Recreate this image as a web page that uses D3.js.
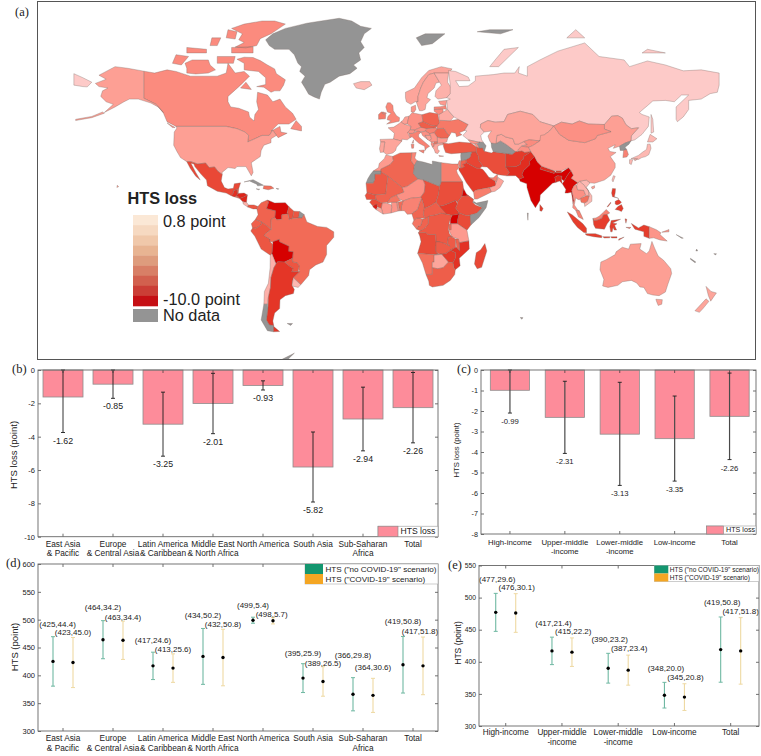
<!DOCTYPE html>
<html>
<head>
<meta charset="utf-8">
<title>HTS loss</title>
<style>
  body { margin: 0; background: #fff; }
  text { font-family: "Liberation Sans", Arial, sans-serif; fill: #222; }
</style>
</head>
<body>
<script src="https://d3js.org/d3.v7.min.js"></script>
<script>
// ---- chart data ----
var regionLabels = [["East Asia","& Pacific"],["Europe","& Central Asia"],["Latin America","& Caribbean"],["Middle East","& North Africa"],["North America"],["South Asia"],["Sub-Saharan","Africa"],["Total"]];
var regionLoss = [-1.62,-0.85,-3.25,-2.01,-0.93,-5.82,-2.94,-2.26];
var regionLossUpper = [0,0,-1.33,-0.2,-0.65,-3.72,-1.03,-0.15];
var regionLossLower = [-3.75,-1.7,-5.17,-3.82,-1.2,-7.92,-4.85,-4.37];
var incomeLabels = [["High-income"],["Upper-middle","-income"],["Lower-middle","-income"],["Low-income"],["Total"]];
var incomeLoss = [-0.99,-2.31,-3.13,-3.35,-2.26];
var incomeLossUpper = [0,-0.55,-0.6,-1.27,-0.15];
var incomeLossLower = [-2.1,-4.07,-5.63,-5.42,-4.37];
var regionNoCovid = [[425,44.4],[464,34.2],[417,24.6],[434,50.2],[499,5.4],[395,25.9],[366,29.8],[419,50.8]];
var regionCovid = [[423,45.0],[463,34.4],[413,25.6],[432,50.8],[498,5.7],[389,26.5],[364,30.6],[417,51.8]];
var incomeNoCovid = [[477,29.6],[417,21.4],[390,23.2],[348,20.0],[419,50.8]];
var incomeCovid = [[476,30.1],[415,22.2],[387,23.4],[345,20.8],[417,51.8]];
var legendSteps = ["#fbe8d6","#f6d9c1","#f0c8aa","#e8b492","#de9c7d","#d87f66","#d2604e","#cb3e36","#c50f14"];

// each country: name, estimated loss (null = no data), lon,lat rings
var americas = [
["Greenland",null,"-73,78.5 -69,80 -62,81.3 -55,82 -50,82.5 -42,83 -32,83.6 -25,83 -20,81.8 -14,81.3 -18,80 -20,78 -18,76.5 -21,75 -20,73 -24,71.5 -22,70.5 -26,68.8 -32,68 -37,66 -40,65.3 -42,62.5 -43,60 -46,60.8 -49,61.8 -51,64 -53,66 -51,68 -54,69.5 -53,71 -55,72 -57,74.5 -60,76 -68,76 -71,77"],
["Canada",-1.4,"-141,69.6 -135,69 -128,70 -123,69.5 -115,68 -108,68 -100,68 -95,69 -94,72 -90,69 -85,69.5 -82,68 -87,65 -94,61 -94,59 -92.5,57 -88,56.5 -82.5,55 -82,53 -79.5,51.3 -79,54 -77,56 -78,59 -77.5,62.5 -72,61.5 -69,59 -65,60 -62,57 -58,54.5 -56,52 -60,50 -66,50 -70,47 -65,49 -64.5,46.5 -61,46 -66,44 -67,45 -69,47.3 -71,45 -75,45 -79,43.5 -83,42 -82.5,45 -84.5,46.5 -89,48 -95,49 -123,49 -128,51 -130,54.5 -134,58 -137,59 -141,60.3",
 "-80,73.7 -76,72.8 -72,71.5 -68,70.3 -67,68.8 -62,66.8 -63,65 -65,63 -68,63 -70,62.5 -74,64.3 -78,64.5 -73,65.2 -73,67.5 -77,69.5 -82,69.8 -85,70 -85,72 -89,73.2 -85,73.8","-117,69 -112,68.7 -105,69 -101,70 -104,71.5 -105,73 -110,73 -114,73 -118,72 -117,70.5","-125,72 -120,71.5 -116,74 -123,74.5","-90,76.6 -84,76.4 -78,77 -76,78.8 -70,80 -62,82.3 -68,83 -75,83 -85,82.3 -92,81.3 -86,80 -88,78.5 -85,77.8","-92,75 -80,75 -80,76.7 -92,76.5","-95,79 -90,78.7 -89,80.5 -94,81","-117,75 -106,75 -106,76 -117,76.5","-100,72 -91,72 -90,74 -100,74","-87,64 -81,63.5 -84,66","-59,48 -53,47 -53,49 -56,51.5","-128,50.5 -123.5,48.5 -125,48.5","-104,77 -100,77 -98,79 -103,79"],
["United States",-1,"-123,49 -95,49 -89,48 -84.5,46.5 -82.5,45 -83,42 -79,43.5 -75,45 -71,45 -69,47.3 -67,45 -70,43.5 -70,41.7 -74,40.5 -75.5,38 -76,35 -81,32 -80,27 -81,25.2 -82.7,28 -84,30 -89,30 -90,29 -94,29.5 -97.3,27 -97.2,25.9 -99.5,27.5 -101.5,29.8 -104.5,29.5 -106.5,31.8 -111,31.3 -114.8,32.5 -117,32.5 -120.5,34.5 -122.5,37.5 -124.3,40.5 -124,46.5 -122.5,48.3",
 "-141,69.6 -141,60.3 -137,59 -134,58 -130,54.8 -133,57 -137,58.5 -144,60 -149,60 -152,59 -157,57 -163,54.8 -158,58 -162,59 -165,61 -164,63 -161,64 -166,64.5 -168,65.6 -162,67 -166,68.3 -157,71 -150,70.5","-179,51.5 -170,52.7 -163,54.5 -164,55 -170,53.2 -179,52","-156,19 -155,19.5 -155.8,20.2"],
["Mexico",-3.5,"-117,32.5 -114.8,32.5 -111,31.3 -106.5,31.8 -104.5,29.5 -101.5,29.8 -99.5,27.5 -97.2,25.9 -97.8,22.5 -96,19 -94,18.2 -91,18.6 -90.5,21 -87,21.5 -88,18.5 -89,17.9 -91,17.3 -91,16 -92.2,14.6 -95,16 -100,17 -105.5,20 -106,23 -109,26 -112.5,30 -113,31.3 -114.7,31.7 -112,27 -109.5,23 -112,25 -115,29"],
["Guatemala",-4.5,"-92.2,14.6 -91,16 -91,17.3 -89,17.9 -88.5,15.8 -89.4,14.2 -90.5,13.9"],
["Belize",-3,"-89,17.9 -88,18.5 -88.3,16 -89,16"],
["Honduras",-5,"-88.5,15.8 -85,16 -83.2,15 -85,14 -87.5,13 -89.3,14.4"],
["El Salvador",-2.5,"-90,13.8 -88,13.2 -87.7,13.8 -89.3,14.4"],
["Nicaragua",-5,"-87.5,13 -85,14 -83.2,15 -83.7,11 -85.7,11.2"],
["Costa Rica",-0.7,"-85.7,11.2 -83.7,11 -82.6,9.5 -83,8.3 -85.5,10"],
["Panama",-3,"-83,8.3 -82.6,9.5 -79.5,9.5 -77.3,8.6 -77.9,7.3 -80,7.3"],
["Cuba",null,"-85,22 -80,23.2 -74.2,20.2 -77.5,19.9 -78,20.8 -82,22.5"],
["Hispaniola",-2,"-74.4,18.4 -74,20 -70,19.8 -68.4,18.6 -71.5,17.8"],
["Jamaica",null,"-78.3,18.3 -76.3,18.1 -77,17.8"],
["Puerto Rico",null,"-67.2,18.5 -65.7,18.4 -66,18"],
["Colombia",-2.5,"-77.9,7.3 -77.3,8.6 -75.5,10.7 -72,12.2 -71.3,11 -72.5,7.5 -67.5,6.2 -67.8,2.5 -70,1.5 -69.8,-4.2 -72,-2.4 -75.2,-0.1 -78.8,1.4 -77.2,4"],
["Venezuela",-6.5,"-72,12.2 -68,10.6 -62,10.7 -60,8.5 -61,5.2 -60.5,4.5 -64,4 -64,1.5 -66.8,1.2 -67.8,2.5 -67.5,6.2 -72.5,7.5 -71.3,11"],
["Guyana",-3.2,"-60,8.5 -57.2,6 -58,2 -59.8,1.3 -60.5,4.5 -61,5.2"],
["Suriname",-3,"-57.2,6 -54,5.8 -54.6,2.3 -58,2"],
["French Guiana",null,"-54,5.8 -51.6,4.2 -52.7,2.2 -54.6,2.3"],
["Ecuador",-2.6,"-78.8,1.4 -75.2,-0.1 -75.5,-1.5 -78.3,-3.5 -80.3,-3.4 -81,-1"],
["Peru",-3,"-80.3,-3.4 -78.3,-3.5 -75.5,-1.5 -75.2,-0.1 -72,-2.4 -70,-4.2 -73,-6.5 -73.8,-7.5 -70.6,-9.5 -70.5,-11 -69,-12.5 -69.3,-16 -69.5,-17.5 -70.4,-18.3 -75.5,-15 -79,-8 -81.3,-5"],
["Brazil",-2.2,"-51.6,4.2 -50,0 -44,-2.5 -39,-3 -35,-5.5 -35,-8.5 -39,-13 -39,-18 -41,-22 -45,-23.5 -48.5,-26 -49,-29 -53.4,-33.7 -57.6,-30.2 -54,-27 -54.6,-25.5 -54.3,-24 -55.5,-22.3 -58,-22 -58,-20 -57.7,-16.5 -60.2,-16.2 -60,-13.5 -65.3,-11 -65.4,-9.7 -69,-11 -70.5,-11 -70.6,-9.5 -73.8,-7.5 -73,-6.5 -70,-4.2 -69.8,-4.2 -70,1.5 -67.8,2.5 -66.8,1.2 -64,1.5 -64,4 -60.5,4.5 -59.8,1.3 -58,2 -54.6,2.3 -52.7,2.2"],
["Bolivia",-7,"-69,-11 -65.4,-9.7 -65.3,-11 -60,-13.5 -60.2,-16.2 -57.7,-16.5 -58,-20 -62.5,-22 -66.3,-21.8 -67.2,-23 -68.5,-20 -69.5,-17.5 -69.3,-16 -69,-12.5"],
["Paraguay",-3,"-58,-20 -58,-22 -55.5,-22.3 -54.3,-24 -54.6,-25.5 -54.8,-27 -58.5,-27.2 -57.7,-25.2 -60,-24 -62.5,-22"],
["Chile",-0.7,"-70.4,-18.3 -69.5,-17.5 -68.5,-20 -67.2,-23 -68.4,-25 -70,-30 -70.3,-35 -71.5,-40 -72,-43 -74,-43 -73.7,-37 -71.5,-33 -70.5,-25"],
["Chile fjords",null,"-72,-43 -71.7,-45 -72.5,-50 -71,-52 -68.5,-52.3 -68.6,-54.9 -72,-54.5 -75.5,-50 -74,-43"],
["Argentina",-4.2,"-66.3,-21.8 -62.5,-22 -60,-24 -57.7,-25.2 -58.5,-27.2 -54.8,-27 -54,-27 -57.6,-30.2 -58.3,-34 -57,-36 -57.5,-38 -62,-39 -65,-41 -65.2,-45 -68,-47 -69,-50.5 -68.5,-52.3 -71,-52 -72.5,-50 -71.7,-45 -71.5,-40 -70.3,-35 -70,-30 -68.4,-25 -67.2,-23","-68.6,-52.7 -65.2,-54.8 -68.6,-54.9"],
["Uruguay",-0.6,"-57.6,-30.2 -53.4,-33.7 -54.9,-35 -58.3,-34.3"],
["Falklands",null,"-61,-51.5 -58,-51.5 -59,-52.3"],
["Antarctic Peninsula",null,"-67,-68 -65,-65.5 -57,-63 -60,-64.8 -62,-68"]
];

var africa = [
["Morocco",-1.1,"-5.9,35.8 -2.2,35.1 -1.7,33 -3.6,31 -8.7,28.7 -8.7,27.7 -13,27.7 -10,29.5 -9.7,31.5 -6.8,34"],
["Western Sahara",null,"-13,27.7 -8.7,27.7 -8.7,26 -12,26 -12,23.4 -13,21.3 -17,21.3 -16,23.7 -14.5,26"],
["Algeria",-2.4,"-2.2,35.1 2,36.8 8.6,36.9 8.2,33 10,30.5 9.4,26.5 12,23.5 5.8,19.5 3.2,19 -4.8,25 -8.7,27.3 -8.7,28.7 -3.6,31 -1.7,33"],
["Tunisia",-1.5,"8.6,36.9 11,37 10.2,34.3 11.5,33 10,30.5 8.2,33"],
["Libya",null,"11.5,33 15,32.3 20,31 20,32.8 25,32 25,22 24,19.5 15,23 12,23.5 9.4,26.5 10,30.5"],
["Egypt",-1.7,"25,32 31,31.3 34.2,31.3 34.8,29.5 33.5,28 34,26.5 36.9,22 25,22"],
["Mauritania",-2.9,"-17,21.3 -13,21.3 -12,23.4 -12,26 -8.7,26 -8.7,27.3 -4.8,25 -6,15.5 -12,15 -16.5,16.2"],
["Mali",-2.5,"-4.8,25 3.2,19 4.2,16.5 0,14.9 -3,13.6 -5,11 -8.5,10.5 -11.4,12.4 -12,15 -6,15.5"],
["Niger",-1.3,"5.8,19.5 12,23.5 15,23 16,20.5 15.5,16.5 13.5,13.7 8,13.2 3.7,11.7 0.9,13.2 0,14.9 4.2,16.5 3.2,19"],
["Chad",-3.2,"15,23 24,19.5 23.5,15.5 22,11 19,9 15.5,7.5 15,10 14,13 13.5,13.7 15.5,16.5 16,20.5"],
["Sudan",-3.3,"24,19.5 25,22 36.9,22 37.4,18.5 36.5,14.3 34,11 33,12 32.4,11.7 27,9.5 24,8.7 22,11 23.5,15.5"],
["South Sudan",-4,"24,8.7 27,9.5 32.4,11.7 33,12 34,10 33,7.8 35,5 33.9,4.2 31,3.7 28,4.3 25,5"],
["Eritrea",-7,"36.5,14.3 37.4,18.5 39,15.5 43,12.5 40,14.5"],
["Ethiopia",-3.3,"36.5,14.3 40,14.5 43,12.5 42.5,11 44,9.5 48,8 44.8,4.9 41.8,4 39,3.5 35,5 33,7.8 34,10 34,11"],
["Somalia",null,"43,11.5 44.5,10.5 51,11.9 50,8 46,2.5 41.5,-1.7 41,3.8 41.8,4 44.8,4.9 48,8 42.7,10.9"],
["Kenya",-3.4,"35,5 39,3.5 41,3.8 41.5,-1.7 39.3,-4.6 34,-1 34,1"],
["Uganda",-7,"31,3.7 33.9,4.2 35,5 34,1 34,-1 30,-1 30,1.5"],
["Tanzania",-1.1,"30,-1 34,-1 39.3,-4.6 40.4,-10.5 35,-11.5 34.5,-9.5 31,-8.3 29.5,-5"],
["Rwanda Burundi",-2,"29,-1.4 30.5,-1 30.5,-4.3 29.3,-4.3"],
["DR Congo",-2.9,"12.2,-6 13,-4.8 14,-4.5 16,-3 17.7,-1 17.8,3.7 18.6,3.5 22,4 25,5 28,4.3 31,3.7 30,1.5 29.3,-1 29,-4 29.5,-6.5 31,-8.3 28.9,-8.5 28.5,-12 29.8,-13.4 27,-12 22,-11 22,-9.7 21.8,-7 17.5,-7 16.5,-6"],
["Congo",-2.5,"11.2,-4 13,-4.8 14,-4.5 16,-3 17.7,-1 17.8,3.7 16,2 14.5,1.5 13.5,-2 12,-2.3"],
["Gabon",-1.9,"9.7,1 11.3,2.2 13.2,2.2 14.5,1.4 13.5,-2 12,-2.3 11.2,-4 8.8,-1"],
["Cameroon",-2.4,"8.6,4.5 9.7,1 11.3,2.2 13.2,2.2 16,2 15,4 15.5,7.5 15,10 14,13 13,11 11.7,7 8.8,5"],
["Central African Republic",-2.7,"15,4 16,2 18.6,3.5 22,4 25,5 28,4.3 24,8.7 22,11 19,9 15.5,7.5"],
["Nigeria",-1.6,"2.7,6.3 4.4,6.3 6,4.3 8.6,4.5 8.8,5 11.7,7 13,11 14,13 13.5,13.7 8,13.2 3.7,11.7 2.8,9"],
["Benin",-2.2,"1.7,6.2 2.7,6.3 2.8,9 3.7,11.7 0.9,11"],
["Togo",-1.2,"0.9,6.1 1.7,6.2 0.9,11 0,11"],
["Ghana",-1.2,"-3.1,5 0.9,6.1 0,11 -2.8,11 -2.7,8"],
["Burkina Faso",-1.9,"-5.3,10.4 -2.8,11 0,11 2.3,12 0.9,13.2 0,14.9 -3,13.6 -5,11"],
["Cote d'Ivoire",-1.1,"-8.5,7.7 -7.5,4.4 -3.1,5 -2.7,8 -2.8,9.5 -5.3,10.4 -8,10.5"],
["Liberia",-0.9,"-11.4,6.9 -7.5,4.4 -8.5,7.7 -9.5,8.5"],
["Sierra Leone",-5.5,"-13.2,8.5 -11.4,6.9 -10.5,8.5 -11,10 -12.5,10"],
["Guinea",-3.4,"-15,11 -13.2,8.9 -11,10 -10.5,8.5 -8.5,7.7 -8,10.5 -8.5,10.5 -11.4,12.4 -13.7,12.5"],
["Senegal",-3.2,"-17.5,14.7 -16.5,16.2 -12,15 -11.4,12.4 -16.7,12.5"],
["Angola",-3.4,"12.2,-6 16.5,-6 17.5,-7 21.8,-7 22,-11 24,-11 22,-13 22,-16.5 23.4,-17.6 20,-18 11.8,-17.3 13.7,-11 13,-8"],
["Zambia",-2.8,"22,-11 24,-11 27,-12 29.8,-13.4 28.5,-12 28.9,-8.5 31,-8.3 33,-9.5 33,-14 30.2,-15.6 27.5,-17.5 25.3,-17.8 23.4,-17.6 22,-16.5 22,-13"],
["Namibia",-2,"11.8,-17.3 20,-18 25.3,-17.8 21,-18.3 21,-22 20,-22 20,-28.4 16.5,-28.6 14.5,-22.5"],
["Botswana",-0.9,"21,-18.3 25.3,-17.8 29,-22 26,-25 23,-25.5 20,-25 20,-22 21,-22"],
["Zimbabwe",-4,"25.3,-17.8 27.5,-17.5 30.2,-15.6 33,-17 33,-19.5 31.5,-22.4 29,-22"],
["Malawi",-2.5,"33,-9.5 34.5,-9.5 35,-11.5 35.3,-16 33.5,-14.2"],
["Mozambique",-4.4,"40.4,-10.5 40.6,-15 35,-20 35.5,-24 32.8,-26 32,-25 31.5,-22.4 33,-19.5 33,-17 30.2,-15.6 33,-14 33.5,-14.2 35.3,-16 35,-11.5"],
["South Africa",-2.7,"16.5,-28.6 20,-28.4 20,-25 23,-25.5 26,-25 29,-22 31.5,-22.4 32,-25 32.8,-26 32.5,-28.5 30,-31.5 26,-34 20,-34.8 18.3,-34 18,-32"],
["Madagascar",-3.5,"49.3,-12 50.4,-16 47.5,-24.8 45,-25.5 43.5,-23 44.5,-17 47,-15.3"]
];

var europe = [
["Iceland",-0.6,"-24,65.5 -20,66.2 -15,66.2 -13.7,65 -18,63.4 -22.5,64"],
["Svalbard",null,"11,79 16,80 27,80 20,77.5 14,77","45,80.5 52,81 65,81 58,80"],
["Norway",-0.9,"5,60.5 5,62.5 10,64 14,67.5 18,69.8 25,71 31,70.3 29,69 25.5,69 21,69 18,68.5 15,66 13.5,64 12,61 12,59 10.5,59 8,58 5.5,59"],
["Sweden",-0.9,"11,59 12,59 12,61 13.5,64 15,66 18,68.5 21,69 24,66 22,65.7 21,64 17.5,62 17,60.5 19,59.8 16.5,58 16,56 14.3,55.5 12.8,55.5 12,57"],
["Finland",-0.7,"21,69 25.5,69 29,69 28.5,66 31.5,63 28,60.5 23,60 21.5,61 22,63 25,65 24,66"],
["Denmark",-1.2,"8.2,57 10.6,57.7 10.8,56 9.8,54.9 8.2,55"],
["United Kingdom",-1.5,"-5.5,50 1.5,51.2 1.7,52.7 0,53.5 -1.8,55.5 -2,57.6 -3.5,58.6 -5,58.6 -6,57 -5,55 -3,54.5 -4.8,53.2 -5.2,51.8 -3,51.4","-7.5,55 -5.6,54.6 -6.2,54.1 -8,54.4"],
["Ireland",-1.8,"-10,52 -6.2,52.2 -6,54 -8,54.4 -7.5,55 -8.5,55 -10,54"],
["France",-1,"-4.7,48.4 -1.5,48.7 1.5,50.2 2.5,51 4.3,50 8.2,49 7.6,47.5 6.2,46.3 7.6,44 6,43 3,43.3 3,42.4 -1.7,43.4 -1.2,46","8.7,41.5 9.5,43 9.4,41.5"],
["Spain",-0.9,"-9.2,43.2 -1.7,43.4 3,42.4 0,39.5 -0.5,38 -2,36.8 -5.5,36 -7.3,37.2 -7,39.5 -6.5,42 -8.8,42"],
["Portugal",-0.9,"-8.8,42 -6.5,42 -7,39.5 -7.3,37.2 -9,37 -9.5,38.8"],
["Benelux",-1,"2.5,51 3.5,51.5 4.7,53 7,53.3 6,50 4.3,50"],
["Germany",-1.3,"6.2,51 7,53.3 8.8,54.8 10,54.5 14.2,53.9 14.8,51 12.2,50.3 13.7,48.6 10,47.4 7.6,47.6 8.2,49 6,50"],
["Switzerland",-1.2,"6.2,46.3 7.6,47.5 10,47.4 10.4,46.6 9,45.9 7,45.9"],
["Austria",-1.3,"10,47.4 13.7,48.6 17,48.7 16.2,46.9 13,46.6 10.4,46.9"],
["Italy",-1.6,"7,45.9 9,45.9 12,47 13.7,46.5 12.3,45.3 12.4,44.3 16,41.8 18.5,40 16.6,38.9 16,38 15.7,40 12.5,41.4 10.3,43 8.7,44.4 7.6,44","12.5,38 15.6,38.2 15.1,36.7","8.2,41 9.7,41 9.5,39.1 8.5,39"],
["Poland",-2.5,"14.2,53.9 18.5,54.8 23,54.3 24,50.5 22.8,49.1 19,49.5 14.8,51"],
["Czechia Slovakia",-2.7,"12.2,50.3 14.8,51 19,49.5 22.5,49.1 22,48.4 17,48 13.7,48.6"],
["Hungary",-1.6,"16.2,46.9 17,48 22,48.4 22.8,48 21,46.2 18.5,45.8"],
["Romania",-2.4,"21,46.2 22.8,48 26.5,48.2 28.2,46 29.6,45 28.6,43.8 25,43.7 22.7,44.2"],
["Bulgaria",-1.1,"22.7,44.2 25,43.7 28.6,43.7 28,42 26,41.5 22.8,41.4"],
["Ukraine",-1.8,"22.8,48 22.5,49.1 24,50.5 24,51.6 30,51.4 34.5,52 40,49.8 38,47.2 35,46.2 36.5,45.3 33.5,44.4 33,46 30.7,46.4 29.6,45 28.2,46 26.5,48.2"],
["Belarus",-0.8,"23.5,53.9 26,55 28.5,56 32,53 30,51.4 24,51.6"],
["Lithuania",-1.4,"21,56 26,56.3 26,55 23.5,53.9 23,54.3 21,55.3"],
["Latvia",-1.5,"21,57 24.4,57.1 27.5,57.5 28,56 26,56.3 21,56"],
["Estonia",-1.1,"23.5,59.2 28,59.5 27.5,57.5 24.4,58"],
["Croatia Slovenia",-1.3,"13.7,46.5 16.2,46.9 18.5,45.8 19,45 16,45 17.5,43 14.5,45"],
["Bosnia",-1,"16,45 19,45 19.5,43.5 18.5,42.5 17.5,43"],
["Serbia",-1.2,"18.5,45.8 21,46.2 22.7,44.2 22.8,42 21,42 19.4,42 18.5,42.5 19.5,43.5 19,45"],
["Albania",-1.3,"19.4,42 20.8,41.5 21,40 20,39.7 19.3,41"],
["North Macedonia",-1.8,"20.8,41.5 21,42 22.8,42 22.8,41.2 21,40.9"],
["Greece",-0.9,"21,40 21,40.9 22.8,41.2 26,41.5 26,40.8 24,40.5 23,40 23,38.5 24,37.8 23,36.5 21.7,36.8 21,38.5 20,39.7","23.6,35.6 26.3,35.2 24,35"]
];

var asia = [
["Russia",-0.3,"28.5,56 32,53 34.5,52 40,49.8 38,47.2 39.3,47 37,45 40,43 46.5,41.8 48.5,41.8 47.5,43 47,45 49,46.5 46.8,48.5 47,50 51,51.5 55,50.8 60,51 62,54 69,55.3 76,54 80,51 87.7,49.2 92,50.8 98,50 102,51.3 107,50 116,49.8 120,53.3 123.5,53.5 126,52.5 128,49.7 131,48 135,48.4 131,44.8 130.8,42.5 133,43 137,45.5 140.5,49 141,53 137,54 135.5,54.8 140,57.5 143,59.3 150,59.5 155,59 159,61.5 163,61.5 156,57 156,52 156.7,51 160,53 163,56 163,59.5 170,60 175,62 179,62.5 180,65 180,69 170,70 160,69.7 150,71.5 140,72.7 130,71 127,73 113,74 105,77.7 90,75.5 80,73 73,71 73,68 68,69 68.5,71 66,69 60,69 54,68.5 44,68 44,66.5 40,64.7 35,64.5 33,66.5 41,66.5 40,67.7 33,69.5 29,69.8 30,65 30,62 28,60.5 30,60 28,59.5",
 "-180,65 -175,64.5 -172.5,64.4 -170,66 -175,67.5 -180,68.8","142,54 143,52 143.5,46.5 142,46 142,50","52,71 55,71 57,71 68,76.5 60,76 55,73","95,79 105,79 100,81","137,75 145,75 150,75 140,76"],
["Turkey",-2.9,"26.2,40 26,41.5 29,41.2 35,42 41.5,41.5 44.6,39.7 44.5,37.2 42,37.2 36.5,36.3 36,36.8 30.5,36.4 27.4,37 26.5,39"],
["Syria",null,"36,36.8 42,37.2 41,34.5 38.8,33.4 36,32.8 35.8,35.5"],
["Israel",-1.6,"34.3,31.3 35,33 35.8,33 35.5,29.5"],
["Jordan",-2.5,"35.5,29.5 36,32.8 38.8,33.4 39,32 37,31 38,30 36,29.2"],
["Iraq",-3.6,"38.8,33.4 41,34.5 42,37.2 44.5,37.2 45.8,35 46,33 48,30.5 48.4,29.9 47.7,30 46.5,29.1 44.7,29.2 39,32"],
["Saudi Arabia",-4,"34.8,29.5 36,29.2 38,30 37,31 39,32 44.7,29.2 46.5,29.1 48.2,28.5 50,26.5 51.5,24.5 55,22.5 55.7,20 52,19 49,18.5 44,17.5 43,16.5 42.5,17 39,21.5 37,25 34.8,28.3"],
["Yemen",-1.7,"43,16.5 44,17.5 49,18.5 52,19 53,16.6 45,12.7 43.5,12.7"],
["Oman",-0.9,"53,16.6 52,19 55,20 55.7,22 56.5,24.5 59.8,22.5 57.8,19 55,17"],
["UAE",-1.6,"51.5,24.2 55,22.5 55.7,22 56.4,24.9 56.3,26 54,24.2"],
["Iran",-3.3,"44.6,39.7 48,39.3 49,37.6 53,36.8 54,37.4 61,36.5 61,31.5 60.9,29.8 63,27 61.6,25.2 57,25.8 54,26.7 50.5,29.8 48.4,29.9 48,30.5 46,33 45.8,35 44.5,37.2"],
["Georgia",-1.2,"40,43 46.5,41.8 43.5,41.1 41.5,41.5"],
["Armenia",-1.2,"43.5,41.1 45,41.2 46.5,39 44.8,39.7"],
["Azerbaijan",null,"45,41.2 46.5,41.8 46,42 48.5,41.8 50,40.2 49,37.6 48,39.3 46.5,39"],
["Turkmenistan",null,"52.8,41.5 55.5,41.3 58,42.5 61,41 66.5,37.4 64.5,36 61,36.5 54,37.4 53,39.5"],
["Uzbekistan",-0.9,"56,45 58.5,45.5 61,44.3 65,43.5 66,41 68,41 71,42.2 73,40.8 70,40.2 68,38.5 67,37.2 66.5,37.4 61,41 58,42.5 55.5,41.3"],
["Kazakhstan",-0.9,"46.8,48.5 47,50 51,51.5 55,50.8 60,51 62,54 69,55.3 76,54 80,51 87.7,49.2 85.5,47 82.5,45.3 80,42.5 74,43 71,42.2 68,41 66,41 65,43.5 61,44.3 58.5,45.5 56,45 55.5,41.3 52.8,41.5 52,42.5 51,44.7 53,47 49,46.5"],
["Kyrgyzstan",-1.4,"71,42.2 74,43 80,42.5 76,40.3 73.7,39.5 70,40 73,40.8"],
["Tajikistan",-1.3,"68,38.5 70,40.2 70,40 73.7,39.5 75,37.4 71.5,37 70,37.7 67.8,37.2"],
["Afghanistan",-4,"61,36.5 64.5,36 66.5,37.4 70,37.7 71.5,37 75,37.4 71,35 71,34 69.5,33 69,31 66.5,29.9 60.9,29.8 61,31.5"],
["Pakistan",-4.6,"61.6,25.2 63,27 60.9,29.8 66.5,29.9 69,31 69.5,33 71,34 71,35 75,37.4 77,35 74,32.5 74.5,31 71,28 70,26 71,24.4 68.5,23.5 66.5,25.3"],
["India",-7,"68.5,23.5 71,24.4 70,26 71,28 74.5,31 74,32.5 77,35 78.5,32.5 81,30.2 80,28.7 88,26.5 88,27.8 89,26.8 92,26.9 96,29.4 97.3,28 95,25 93.5,22.5 92,23.5 92.3,25 89.8,25.3 88.3,24.5 89,21.8 87,21.3 80.2,15 80,12 77.5,8 75,12 72.8,19 72.7,21 69,22.3"],
["Nepal",-4.6,"81,30.2 88,27.8 88,26.5 80,28.7"],
["Bhutan",-4,"89,26.8 89,27.8 92,27.8 92,26.9"],
["Bangladesh",-5,"88.3,24.5 89.8,25.3 92.3,25 92,23.5 92.5,21 91,22.5 89,21.8"],
["Sri Lanka",-4,"80,9.7 81.8,7.5 81,6 80,6.2"],
["Myanmar",-6.5,"92.5,21 93.5,22.5 95,25 97.3,28 98.7,25.5 97.5,24 101.2,21.5 99,20 97.8,17.5 99,12 98.5,10 98,14 97.5,16.5 95.5,16 94,16 94.5,18"],
["Thailand",-1.3,"97.8,17.5 99,20 100.5,20.3 101,17.8 104.5,17.5 105.5,15 102.5,13 102,12.2 100.8,12.8 100,13.4 99.2,9.5 101,6.8 102,6.2 100,6.5 98.3,8 98.5,10 99,12"],
["Laos",-0.7,"100.5,20.3 101.2,21.5 102.2,22.4 104.5,20.5 107,17.5 107.5,15 105.5,14 105.5,15 104.5,17.5 101,17.8"],
["Vietnam",-0.6,"102.2,22.4 106,23 108,21.5 105.8,19 109,14.5 109,11.5 105,8.6 104.8,10.5 106.5,11.5 107.5,15 107,17.5 104.5,20.5"],
["Cambodia",-2,"102.5,13 105.5,14.4 107.5,14.5 106.5,11.5 104.8,10.5 103,11"],
["Malaysia",-1.6,"100,6.5 102,6.2 103.5,3 104.2,1.4 101.5,2.8","109.6,2 111.3,2.3 113,3.2 115.5,5.5 117,7 119,5 117.5,4.2 115.5,4 114.5,2 112,1 110,0.9"],
["Indonesia",-3.9,"95.3,5.6 98,4 104,-1 106,-3.5 106,-6 104.5,-5.8 101,-3 98.5,0","105.2,-6.6 108,-6.5 111,-6.5 114.5,-7.7 114.5,-8.7 110,-8.2 106,-7.4","109.6,2 110,0.9 112,1 114.5,2 115.5,4 117.5,4.2 119,1 117.5,-1 116,-4 111,-3.5 110,-1.5","119.8,0.8 125,1.5 120.5,-0.5 123,-1 121.7,-2 122.8,-4.5 121.5,-4.5 120.8,-3 120.3,-5.5 119.5,-5.5 119,-2.5","131,-0.8 135,-3.3 138,-1.7 141,-2.6 141,-9.1 138,-8 138,-5.5 133,-4 132,-2.5","115,-8.2 119,-8.2 119,-8.8 116,-8.9","119.5,-8.2 123,-8.2 123,-8.9 120,-8.9","124,-9.5 127,-8.4 124,-10.2","127.5,1.8 128.5,1.5 128,-0.7","128,-3 130.8,-3 130,-3.6"],
["Papua New Guinea",-1.2,"141,-2.6 145,-4.3 147.5,-6 147,-7 151,-10.6 147,-10 143.5,-8.8 141,-9.1","148,-5.7 152,-4.2 152,-5.5"],
["Philippines",-4,"120.5,18.5 122.2,18.4 122,16 121.5,14 124,13 123,13.5 120.5,14 120,16","122,7 123.5,8.6 125.5,9.7 126.5,7.5 125.5,5.8 124,6.5","122,11.5 124,12.5 125.5,11 124.5,10 123,9.5 122,10","117.5,8.5 119.5,11 119.6,10.5 118,8.5"],
["Taiwan",-0.6,"121,25.3 122,25 120.8,22 120.2,23"],
["China",-1,"73.7,39.5 76,40.3 80,42.5 80.4,45 82.5,45.3 85.5,47 87.7,49.2 91,45.5 96,42.8 105,41.7 111,43.5 112,45 119.7,46.7 116,47.8 116,49.8 120,53.3 123.5,53.5 126,52.5 128,49.7 131,48 135,48.4 131,44.8 130.8,42.5 127.5,41.5 124.4,40 121,39 122,40.7 118,39 119,37.5 122.5,37 119.3,35 122,31.5 122,29.5 119.5,25.5 116,23 110.5,21.3 108,21.5 106,23 102.2,22.4 101.2,21.5 97.5,24 98.7,25.5 97.3,28 96,29.4 92,27.8 89,27.8 88,27.8 81,30.2 78.5,32.5 77,35 75,37.4","108.7,19.3 110.5,20 110.5,18.8 109.3,18.2"],
["Mongolia",-1.3,"87.7,49.2 91,45.5 96,42.8 105,41.7 111,43.5 112,45 119.7,46.7 116,47.8 116,49.8 107,50 102,51.3 98,50 92,50.8"],
["Japan",-0.6,"130.8,34 135,35.6 137,37 139.5,38.5 140,41 141.5,41 142,39 140.8,36 139,35 136.8,34.5 135,33.6 132.5,34","130,33.5 131.8,33.5 131,31 130,31.5","140,42 141.5,45.5 145.3,43.5 143,42","132.3,33.8 134.5,34 134,33.4 133,32.9"],
["North Korea",null,"124.4,40 127.5,41.5 130.8,42.5 129.7,41 127.5,39.5 128.4,38.5 126.7,38 124.8,38"],
["South Korea",-1.6,"126.7,38 128.4,38.5 129.4,36 128.5,34.8 126.3,34.5"],
["Australia",-1,"114,-22 117,-20.7 122,-18 122.5,-16.5 126,-14 129.5,-15 130.5,-12.3 136.5,-12 135.7,-15 139.5,-17.5 141,-16 142.5,-10.8 144,-14.5 146,-18.8 149,-21 153,-25.5 153.5,-28 151.3,-33.7 150,-37.3 146.5,-39 143,-38.7 140,-38 138,-35 135.8,-34.8 134,-32.8 131,-31.5 126,-32.2 123.5,-34 118,-35 115,-34.3 115.7,-31 113.5,-26","144.7,-40.7 148.3,-40.9 148,-43 146,-43.6 145.2,-42"],
["New Zealand",-0.9,"172.7,-34.5 175.5,-37 178.5,-37.7 177,-39.5 175.3,-41.6 174,-39","172.7,-40.5 174.3,-41.7 171,-45 169,-46.7 166.5,-46"],
["Small islands",null,"164,-20 167,-22 166.5,-22.3 164,-20.5","156,-7 160,-9 159,-9","177,-17.5 178.5,-17.5 178,-18.2","69,-49 70.5,-49 70,-49.7","168,-16 167.5,-15 167,-16","73,5 73.5,5 73.3,1"]
];

var lossStops = [0,-0.3,-1,-1.4,-2,-3,-4,-5.5,-7];
var lossColours = ["#fff0ea","#fdcac8","#fd9f94","#fb8b7e","#f3705c","#ec5642","#e53a2a","#dc1a12","#d60000"];
var noDataColour = "#949494";

// ---- scales and drawing ----
var width = 761, height = 756;
var svg = d3.select('body').append('svg').attr('width', width).attr('height', height);

var lossScale = d3.scaleLinear().domain(lossStops).range(lossColours);

// the world map looks like a Miller cylindrical cut at +-180
var projection = d3.geoProjection(function(l, p) {
    return [l, 1.25 * Math.log(Math.tan(Math.PI / 4 + 0.4 * p))];
}).scale(102.7).translate([396.5, 222]);

var ringPath = d3.line()
    .x(function(d) { return projection(d)[0]; })
    .y(function(d) { return projection(d)[1]; })
    .curve(d3.curveLinearClosed);

function parseRing(s) {
    return s.split(' ').map(function(p) { return p.split(',').map(Number); });
}

svg.append('clipPath').attr('id', 'mapclip').append('rect')
    .attr('x', 37.5).attr('y', 1.5).attr('width', 718).attr('height', 358);

var map = svg.append('g').attr('clip-path', 'url(#mapclip)');
var countries = americas.concat(africa, europe, asia);

map.selectAll('path.country').data(countries).enter().append('path')
    .attr('class', 'country')
    .attr('d', function(d) {
        return d.slice(2).map(function(r) { return ringPath(parseRing(r)); }).join('');
    })
    .attr('fill', function(d) { return d[1] === null ? noDataColour : lossScale(d[1]); })
    .attr('stroke', '#7d6a66')
    .attr('stroke-width', 0.35)
    .attr('stroke-linejoin', 'round');

svg.append('rect').attr('x', 37.5).attr('y', 1.5).attr('width', 718).attr('height', 358)
    .attr('fill', 'none').attr('stroke', '#555').attr('stroke-width', 1);

// map legend
var legendBand = d3.scaleBand().domain(d3.range(legendSteps.length)).range([215, 306]);
svg.selectAll('rect.step').data(legendSteps).enter().append('rect')
    .attr('class', 'step')
    .attr('x', 133).attr('width', 25)
    .attr('y', function(d, i) { return legendBand(i); })
    .attr('height', legendBand.bandwidth() + 0.3)
    .attr('fill', function(d) { return d; });
svg.append('rect').attr('x', 133).attr('y', 309).attr('width', 25).attr('height', 13).attr('fill', noDataColour);
svg.append('text').attr('x', 127.5).attr('y', 204).attr('font-size', 16.3).attr('font-weight', 'bold').text('HTS loss');
svg.append('text').attr('x', 163).attr('y', 227).attr('font-size', 16.3).text('0.8 point');
svg.append('text').attr('x', 163).attr('y', 305).attr('font-size', 16.3).text('-10.0 point');
svg.append('text').attr('x', 163).attr('y', 321).attr('font-size', 16.3).text('No data');

function panelLabel(txt, x, y) {
    svg.append('text').attr('x', x).attr('y', y).attr('font-size', 12.5)
        .style('font-family', '"Liberation Serif", serif').text(txt);
}
panelLabel('(a)', 15, 16);
panelLabel('(b)', 12, 373);
panelLabel('(c)', 457, 373);
panelLabel('(d)', 6, 567);
panelLabel('(e)', 448, 569);

// frame with inward ticks on all four sides, labels on left and bottom
function drawAxes(o) {
    var x = o.x, y = o.y, yr = y.range();
    var left = o.left, right = o.right;
    var g = svg.append('g');
    var yFmt = function(d) { return String(d); };

    var la = g.append('g').attr('transform', 'translate(' + left + ',0)')
        .call(d3.axisLeft(y).tickValues(o.yTicks).tickFormat(yFmt).tickSize(-3).tickSizeOuter(0).tickPadding(3));
    la.selectAll('text').attr('font-size', o.tickFont);
    g.append('g').attr('transform', 'translate(' + right + ',0)')
        .call(d3.axisRight(y).tickValues(o.yTicks).tickFormat('').tickSize(-3).tickSizeOuter(0));
    g.append('g').attr('transform', 'translate(0,' + yr[1] + ')')
        .call(d3.axisTop(x).tickFormat('').tickSize(-3).tickSizeOuter(0));
    g.append('g').attr('transform', 'translate(0,' + yr[0] + ')')
        .call(d3.axisBottom(x).tickFormat('').tickSize(-3).tickSizeOuter(0));
    g.selectAll('path.domain').remove();
    g.selectAll('line').attr('stroke', '#333').attr('stroke-width', 0.7);

    g.append('rect').attr('x', left).attr('y', yr[1]).attr('width', right - left).attr('height', yr[0] - yr[1])
        .attr('fill', 'none').attr('stroke', '#666').attr('stroke-width', 0.9);

    o.labels.forEach(function(lines, i) {
        var t = svg.append('text').attr('text-anchor', 'middle').attr('font-size', o.catFont)
            .attr('y', yr[0] + o.catDy);
        lines.forEach(function(s, j) {
            t.append('tspan').attr('x', x(i) + x.bandwidth() / 2).attr('dy', j ? o.catLine : 0).text(s);
        });
    });

    svg.append('text').attr('text-anchor', 'middle').attr('font-size', o.titleFont)
        .attr('transform', 'translate(' + o.titleX + ',' + o.titleY + ') rotate(-90)').text(o.title);
}

function bandScale(n, x0, x1, inner) {
    return d3.scaleBand().domain(d3.range(n)).range([x0, x1]).paddingInner(inner).paddingOuter(inner / 2);
}

function barPanel(o) {
    var x = bandScale(o.values.length, o.x0, o.x1, o.inner);
    var y = d3.scaleLinear().domain(o.domain).range([o.yBottom, o.yTop]);
    var g = svg.append('g');

    g.selectAll('rect').data(o.values).enter().append('rect')
        .attr('x', function(d, i) { return x(i); })
        .attr('y', y(0))
        .attr('width', x.bandwidth())
        .attr('height', function(d) { return y(d) - y(0); })
        .attr('fill', '#fd8c9a').attr('stroke', '#8d8d8d').attr('stroke-width', 0.8);

    var cx = function(i) { return x(i) + x.bandwidth() / 2; };
    g.selectAll('line.err').data(o.values).enter().append('line').attr('class', 'err')
        .attr('x1', function(d, i) { return cx(i); }).attr('x2', function(d, i) { return cx(i); })
        .attr('y1', function(d, i) { return y(o.upper[i]); }).attr('y2', function(d, i) { return y(o.lower[i]); })
        .attr('stroke', o.errColour).attr('stroke-width', o.errWidth);
    [o.upper, o.lower].forEach(function(arr) {
        g.selectAll(null).data(arr).enter().append('line')
            .attr('x1', function(d, i) { return cx(i) - 2; }).attr('x2', function(d, i) { return cx(i) + 2; })
            .attr('y1', function(d) { return y(d); }).attr('y2', function(d) { return y(d); })
            .attr('stroke', '#1c1c1c').attr('stroke-width', 0.9);
    });
    g.selectAll('text').data(o.values).enter().append('text')
        .attr('text-anchor', 'middle').attr('font-size', o.valueFont)
        .attr('x', function(d, i) { return cx(i); })
        .attr('y', function(d, i) { return y(o.lower[i]) + 11; })
        .text(function(d) { return d.toFixed(2); });

    drawAxes({ x: x, y: y, left: o.left, right: o.right, yTicks: o.yTicks, labels: o.labels,
        tickFont: o.tickFont, catFont: o.catFont, catDy: o.catDy, catLine: o.catLine,
        title: 'HTS loss (point)', titleFont: o.titleFont, titleX: o.titleX, titleY: o.titleY });

    // legend box
    svg.append('rect').attr('x', o.legX).attr('y', o.yBottom - o.legH).attr('width', o.right - o.legX).attr('height', o.legH)
        .attr('fill', '#fff').attr('stroke', '#999').attr('stroke-width', 0.6);
    svg.append('rect').attr('x', o.legX).attr('y', o.yBottom - o.legH).attr('width', o.legSwatch).attr('height', o.legH)
        .attr('fill', '#fd8c9a').attr('stroke', '#888').attr('stroke-width', 0.6);
    svg.append('text').attr('x', o.legX + o.legSwatch + 2.5).attr('y', o.yBottom - o.legH * 0.22).attr('font-size', o.legFont).text('HTS loss');
}

barPanel({ values: regionLoss, upper: regionLossUpper, lower: regionLossLower, labels: regionLabels,
    x0: 38, x1: 438, left: 38, right: 438, inner: 0.2, domain: [-10, 0], yBottom: 536.7, yTop: 370,
    yTicks: d3.range(-10, 1, 2), valueFont: 8.8, tickFont: 7.5, catFont: 8.3, catDy: 10, catLine: 9.5,
    titleFont: 9.5, titleX: 17, titleY: 455, legX: 378, legH: 10.5, legSwatch: 20, legFont: 8.6,
    errColour: '#1c1c1c', errWidth: 0.9 });

barPanel({ values: incomeLoss, upper: incomeLossUpper, lower: incomeLossLower, labels: incomeLabels,
    x0: 482.5, x1: 757, left: 481, right: 756, inner: 0.285, domain: [-8, 0], yBottom: 534, yTop: 370,
    yTicks: d3.range(-8, 1), valueFont: 7.7, tickFont: 7.2, catFont: 7.8, catDy: 11, catLine: 9,
    titleFont: 7.7, titleX: 458.5, titleY: 450, legX: 706.5, legH: 8, legSwatch: 17, legFont: 7.2,
    errColour: '#4a4a4a', errWidth: 1.2 });

function scenarioPanel(o) {
    var n = o.noCovid.length;
    var x = bandScale(n, o.x0, o.x1, 0.2);
    var y = d3.scaleLinear().domain(o.domain).range([o.yBottom, o.yTop]);
    var g = svg.append('g');
    var cx = function(i) { return x(i) + x.bandwidth() / 2; };

    [[o.noCovid, -10, '#6fb8a2', o.nudgeA], [o.covid, 10, '#eed9a2', o.nudgeB]].forEach(function(s) {
        var rows = s[0], off = s[1], col = s[2], nudge = s[3];
        var sg = g.append('g');
        sg.selectAll('line.bar').data(rows).enter().append('line').attr('class', 'bar')
            .attr('x1', function(d, i) { return cx(i) + off; }).attr('x2', function(d, i) { return cx(i) + off; })
            .attr('y1', function(d) { return y(d[0] + d[1]); }).attr('y2', function(d) { return y(d[0] - d[1]); })
            .attr('stroke', col).attr('stroke-width', 1.1);
        [1, -1].forEach(function(sign) {
            sg.selectAll(null).data(rows).enter().append('line')
                .attr('x1', function(d, i) { return cx(i) + off - 2; }).attr('x2', function(d, i) { return cx(i) + off + 2; })
                .attr('y1', function(d) { return y(d[0] + sign * d[1]); }).attr('y2', function(d) { return y(d[0] + sign * d[1]); })
                .attr('stroke', col).attr('stroke-width', 1);
        });
        sg.selectAll('circle').data(rows).enter().append('circle')
            .attr('cx', function(d, i) { return cx(i) + off; })
            .attr('cy', function(d) { return y(d[0]); })
            .attr('r', 1.7).attr('fill', '#000');
        sg.selectAll('text').data(rows).enter().append('text')
            .attr('text-anchor', 'middle').attr('font-size', o.valueFont)
            .attr('x', function(d, i) { return cx(i) + off + nudge[i][0]; })
            .attr('y', function(d, i) { return y(d[0] + d[1]) + nudge[i][1] + 3; })
            .text(function(d) { return '(' + d[0] + ',' + d[1].toFixed(1) + ')'; });
    });

    drawAxes({ x: x, y: y, left: o.left, right: o.right, yTicks: o.yTicks, labels: o.labels,
        tickFont: o.tickFont, catFont: o.catFont, catDy: o.catDy, catLine: o.catLine,
        title: 'HTS (point)', titleFont: o.titleFont, titleX: o.titleX, titleY: o.titleY });

    var lh = o.legHeight;
    svg.append('rect').attr('x', o.legX).attr('y', o.yTop).attr('width', o.right - o.legX).attr('height', lh * 2)
        .attr('fill', '#fff').attr('stroke', '#aaa').attr('stroke-width', 0.6);
    [['#14966f', 'HTS ("no COVID-19" scenario)'], ['#f4a623', 'HTS ("COVID-19" scenario)']].forEach(function(l, i) {
        svg.append('rect').attr('x', o.legX).attr('y', o.yTop + i * lh).attr('width', o.legSwatch).attr('height', lh).attr('fill', l[0]);
        svg.append('text').attr('x', o.legX + o.legSwatch + o.legGap).attr('y', o.yTop + i * lh + lh * 0.76)
            .attr('font-size', o.legFont).text(l[1]);
    });
}

// label placement next to the error bars, [dx, dy] from the upper cap
var regionNudgeA = [[4.6,-13],[0,-13.4],[0,-12.5],[0,-13],[0,-12],[0,-11],[0,-23],[0,-15.5]];
var regionNudgeB = [[0,-5],[0,-4],[0,-4.5],[0,-5],[-1.3,-4],[0,-4],[0,-11.6],[-3,-6]];
var incomeNudgeA = [[1.5,-14.4],[1.5,-14.4],[1.5,-14],[1.5,-14],[1.5,-14.7]];
var incomeNudgeB = [[1,-7],[1.3,-7],[1,-7],[1,-7],[0,-7]];

scenarioPanel({ noCovid: regionNoCovid, covid: regionCovid, labels: regionLabels, nudgeA: regionNudgeA, nudgeB: regionNudgeB,
    x0: 38, x1: 438, left: 38, right: 438, domain: [300, 600], yBottom: 731, yTop: 564, yTicks: d3.range(300, 601, 50),
    valueFont: 8, tickFont: 7.5, catFont: 8.3, catDy: 10, catLine: 10, titleFont: 9.5, titleX: 18, titleY: 647,
    legX: 305, legSwatch: 18, legGap: 2.5, legHeight: 10, legFont: 8.1 });

scenarioPanel({ noCovid: incomeNoCovid, covid: incomeCovid, labels: incomeLabels, nudgeA: incomeNudgeA, nudgeB: incomeNudgeB,
    x0: 477.6, x1: 758.8, left: 479, right: 759, domain: [300, 550], yBottom: 726, yTop: 565.5, yTicks: d3.range(300, 551, 50),
    valueFont: 8, tickFont: 6.8, catFont: 8.2, catDy: 9, catLine: 10, titleFont: 8.5, titleX: 461, titleY: 643,
    legX: 654.3, legSwatch: 14, legGap: 1.5, legHeight: 8, legFont: 6.5 });
</script>
</body>
</html>
